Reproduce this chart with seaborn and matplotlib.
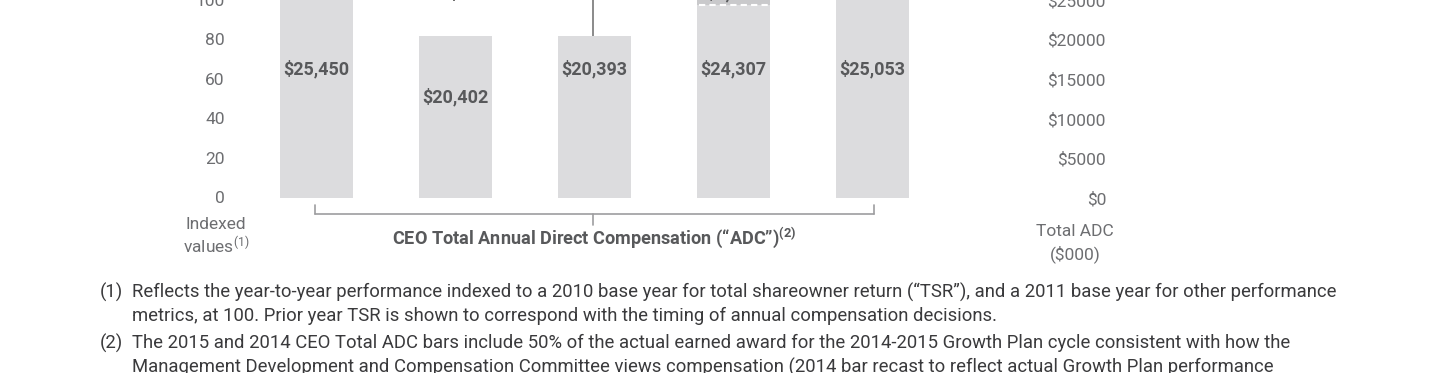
import matplotlib
matplotlib.use("Agg")
import matplotlib.pyplot as plt
import seaborn as sns
import pandas as pd

# Data
years = ["2011", "2012", "2013", "2014", "2015"]
adc_total = [25450, 20402, 20393, 24307, 25053]       # CEO Total ADC ($000)
adc_labels = ["$25,450", "$20,402", "$20,393", "$24,307", "$25,053"]
adc_recast = [0, 0, 0, 6000, 0]                         # upper (recast) segment, mostly cut off
recast_label = "$6,000"
index_ticks = [0, 20, 40, 60, 80, 100]
adc_ticks = [0, 5000, 10000, 15000, 20000, 25000]
tsr_index = [100.3, 112]                                # only the start of the TSR line is visible

footnotes = [
    ("(1)", "Reflects the year-to-year performance indexed to a 2010 base year for total shareowner return (\u201cTSR\u201d), and a 2011 base year for other performance"),
    ("", "metrics, at 100. Prior year TSR is shown to correspond with the timing of annual compensation decisions."),
    ("(2)", "The 2015 and 2014 CEO Total ADC bars include 50% of the actual earned award for the 2014-2015 Growth Plan cycle consistent with how the"),
    ("", "Management Development and Compensation Committee views compensation (2014 bar recast to reflect actual Growth Plan performance"),
]

sns.set_theme(style="white")
plt.rcParams["font.family"] = ["Roboto", "DejaVu Sans"]
plt.rcParams["mathtext.fontset"] = "custom"
plt.rcParams["mathtext.rm"] = "Roboto"
plt.rcParams["mathtext.it"] = "Roboto"
plt.rcParams["mathtext.bf"] = "Roboto:bold"

W, H = 1440, 373
fig = plt.figure(figsize=(W / 100, H / 100), dpi=100)

# axes: x from 247 to 942 px, y from 0 to 198 px (top-down)
ax_l, ax_r, ax_b, ax_t = 247, 942, 198, 0
ax = fig.add_axes([ax_l / W, 1 - ax_b / H, (ax_r - ax_l) / W, (ax_b - ax_t) / H])
ax2 = ax.twinx()

df = pd.DataFrame({"year": years, "adc": adc_total, "recast": adc_recast})
df["stack"] = df["adc"] + df["recast"]

bar_col = "#dcdcde"
# recast segment (darker) behind, then main bars
sns.barplot(data=df, x="year", y="stack", color="#c9c9cb", width=0.53,
            saturation=1, linewidth=0, ax=ax2, zorder=1)
sns.barplot(data=df, x="year", y="adc", color=bar_col, width=0.53,
            saturation=1, linewidth=0, ax=ax2, zorder=2)
ymax2 = 24800
ax2.set_ylim(0, ymax2)
ax.set_xlim(-0.5, 4.5)
ax.set_ylim(-0.5, 100)

# dashed boundary on the recast bar
for i, r in enumerate(adc_recast):
    if r:
        ax2.plot([i - 0.25, i + 0.25], [adc_total[i], adc_total[i]], color="white",
                 lw=1.5, ls=(0, (3, 2)), zorder=3)
        ax2.text(i, adc_total[i] + 350, recast_label, ha="center", va="bottom",
                 fontsize=13, fontweight="bold", color="#58595b", zorder=4)

# value labels inside bars
label_px = [68, 96, 68, 68, 68]
per_px = ymax2 / (ax_b - ax_t)
for i, lab in enumerate(adc_labels):
    ax2.text(i, (ax_b - label_px[i]) * per_px, lab, ha="center", va="center",
             fontsize=13, fontweight="bold", color="#58595b", zorder=5)

# connector line above the 2013 bar and marks at top
ax2.vlines(2 - 0.01, adc_total[2], 26000, color="#777777", lw=1.2, zorder=3)
ax.plot([0, 1], tsr_index, color="#e8423b", lw=3, zorder=6, clip_on=False)
ax.vlines(1 - 0.01, 99.3, 102, color="#555555", lw=1.2, zorder=6, clip_on=False)

# ticks
ax.set_yticks(index_ticks)
ax.set_yticklabels([str(t) for t in index_ticks])
ax2.set_yticks(adc_ticks)
ax2.set_yticklabels(["$%d" % t for t in adc_ticks])
ax.tick_params(axis="y", length=0, pad=16, labelsize=12.5, labelcolor="#6d6e71")
ax2.tick_params(axis="y", length=0, pad=(1106 - ax_r) * 0.72, labelsize=12.5,
                labelcolor="#6d6e71")
for t in ax2.get_yticklabels():
    t.set_horizontalalignment("right")
ax.set_xticks([])
ax2.set_xticks([])
ax.set_xlabel("")
ax2.set_xlabel("")
ax.set_ylabel("")
ax2.set_ylabel("")
for a in (ax, ax2):
    for s in a.spines.values():
        s.set_visible(False)
    a.patch.set_visible(False)

# bracket under the bars
def fx(px):
    return px / W

def fy(py):
    return 1 - py / H

br = "#9d9d9f"
fig.add_artist(plt.Line2D([fx(315), fx(874)], [fy(214), fy(214)], color=br, lw=1.2))
fig.add_artist(plt.Line2D([fx(315), fx(315)], [fy(205), fy(214)], color=br, lw=1.2))
fig.add_artist(plt.Line2D([fx(874), fx(874)], [fy(205), fy(214)], color=br, lw=1.2))
fig.add_artist(plt.Line2D([fx(593), fx(593)], [fy(214), fy(225)], color=br, lw=1.2))

fig.text(fx(594), fy(238), "CEO Total Annual Direct Compensation (\u201cADC\u201d)$^{\\mathbf{(2)}}$",
         ha="center", va="center", fontsize=13.1, fontweight="bold", color="#58595b")
fig.text(fx(216), fy(225), "Indexed", ha="center", va="center", fontsize=12.5, color="#6d6e71")
fig.text(fx(216), fy(246), "values$^{(1)}$", ha="center", va="center", fontsize=12.5, color="#6d6e71")
fig.text(fx(1075), fy(232), "Total ADC", ha="center", va="center", fontsize=12.5, color="#6d6e71")
fig.text(fx(1075), fy(254), "($000)", ha="center", va="center", fontsize=12.5, color="#6d6e71")

# footnotes
for k, (num, txt) in enumerate(footnotes):
    y = fy(292 + 24 * k + (3 if k >= 2 else 0))
    if num:
        fig.text(fx(100), y, num, ha="left", va="center", fontsize=13.35, color="#3a3a3c")
    fig.text(fx(132), y, txt, ha="left", va="center", fontsize=13.35, color="#3a3a3c")

fig.savefig("out.png", dpi=100)
